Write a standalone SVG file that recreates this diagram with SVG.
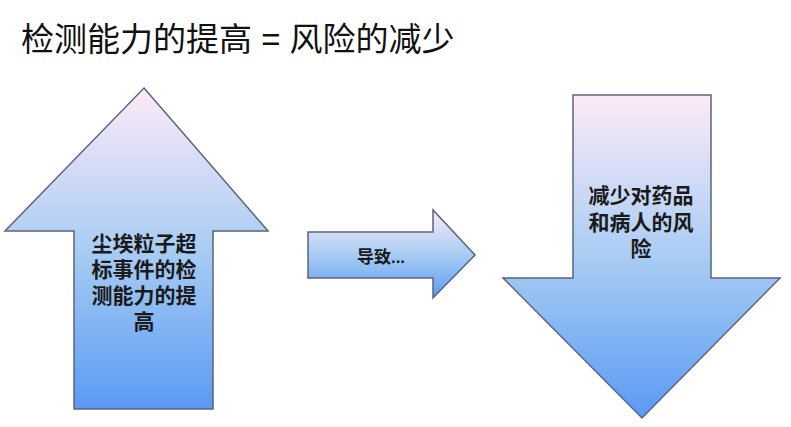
<svg xmlns="http://www.w3.org/2000/svg" width="791" height="427" viewBox="0 0 791 427">
<defs>
<linearGradient id="g" x1="0" y1="0" x2="0" y2="1">
<stop offset="0" stop-color="#fdeaf8"/>
<stop offset="0.5" stop-color="#a9cdf3"/>
<stop offset="1" stop-color="#5a9af4"/>
</linearGradient>
</defs>
<style>
.arrow{fill:url(#g);stroke:#5b6478;stroke-width:1.5;stroke-linejoin:miter}
.lbl{font-family:"Liberation Sans","Noto Sans CJK SC",sans-serif;font-weight:bold;fill:#1a1a1a;text-anchor:middle}
.title{font-family:"Liberation Sans","Noto Sans CJK SC",sans-serif;font-size:33px;fill:#111}
</style>
<rect width="791" height="427" fill="#ffffff"/>
<text class="title" x="21" y="51">检测能力的提高 = 风险的减少</text>
<g id="up-arrow">
<polygon class="arrow" points="144,88 268,231 213,231 213,409 74,409 74,231 5,231"/>
<text class="lbl" font-size="21" x="144" y="251">尘埃粒子超</text>
<text class="lbl" font-size="21" x="144" y="277">标事件的检</text>
<text class="lbl" font-size="21" x="144" y="303">测能力的提</text>
<text class="lbl" font-size="21" x="144" y="329">高</text>
</g>
<g id="connectors">
<g id="right-arrow">
<polygon class="arrow" points="308,232 433,232 433,210 475,255 433,298 433,278 308,278"/>
<text class="lbl" font-size="17" x="381" y="263">导致...</text>
</g>
</g>
<g id="down-arrow">
<polygon class="arrow" points="573,95 711,95 711,278 780,278 642,418 503,278 573,278"/>
<text class="lbl" font-size="21" x="641" y="203">减少对药品</text>
<text class="lbl" font-size="21" x="641" y="230">和病人的风</text>
<text class="lbl" font-size="21" x="641" y="256">险</text>
</g>
</svg>
